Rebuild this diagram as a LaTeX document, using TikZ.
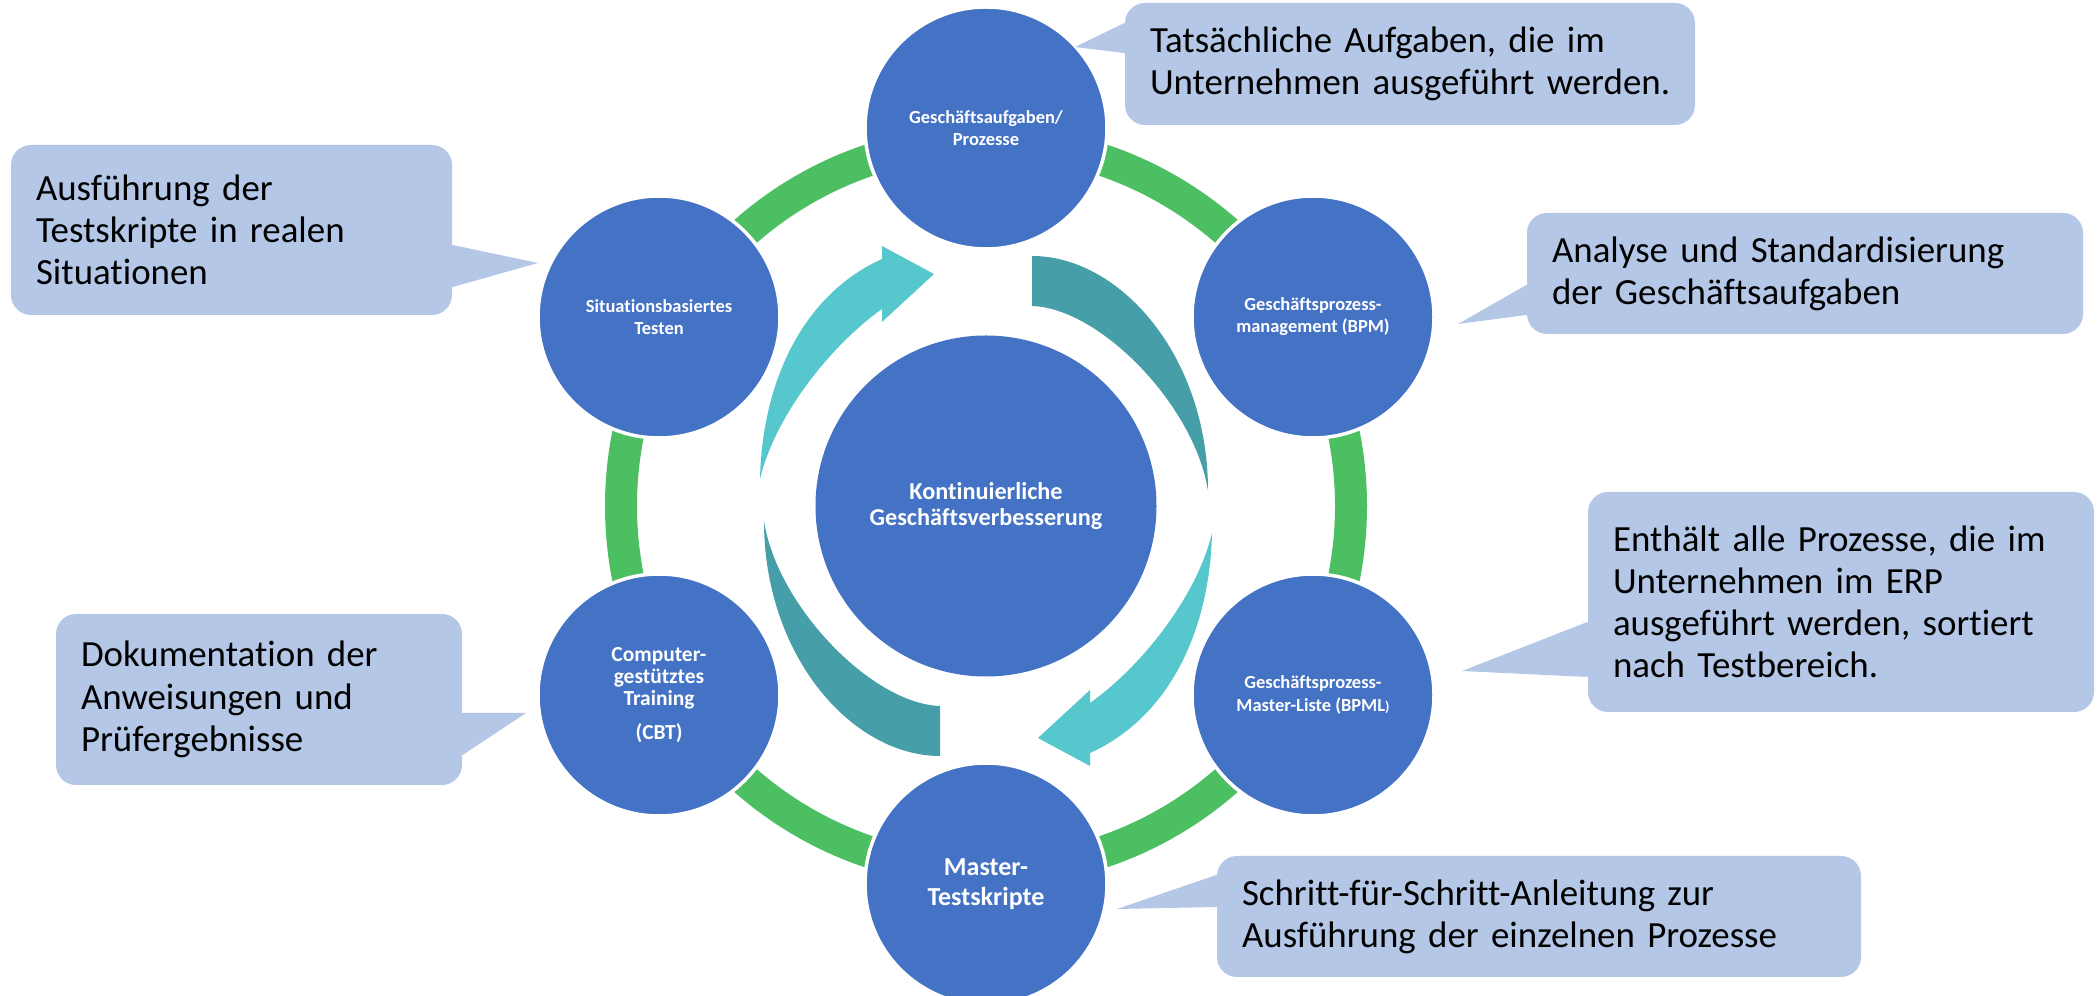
\documentclass[tikz,border=0pt]{standalone}
\usepackage{fontspec}
\setmainfont{Carlito}[Ligatures=NoCommon]
\definecolor{kreisblau}{HTML}{4472C4}
\definecolor{ringgruen}{HTML}{4BBF62}
\definecolor{pfeilhell}{HTML}{57C7CE}
\definecolor{pfeildunkel}{HTML}{469FA8}
\definecolor{notizblau}{HTML}{B4C7E7}

\begin{document}
\begin{tikzpicture}[
	kreis/.style={circle,fill=kreisblau,draw=white,line width=1pt,minimum size=2.42cm,inner sep=0pt,
		text=white,align=center,font=\bfseries\fontsize{5.25}{6.3}\selectfont},
	notiz/.style={rectangle,fill=notizblau,rounded corners=0.2cm,inner xsep=0.25cm,inner ysep=0pt,
		align=left,font=\fontsize{10.5}{12}\selectfont},
	zeiger/.style={fill=notizblau}]
	\useasboundingbox (0,0) rectangle (20.98,9.96);
	\coordinate (mitte) at (9.86,4.90);
	
	\draw [ringgruen,line width=0.32cm](mitte) circle (3.65);
	
	\fill [pfeilhell](7.60,5.17) .. controls (7.62,6.10) and (8.00,7.00) .. (8.82,7.37)--(8.82,7.50)--(9.34,7.22)--(8.82,6.74)--(8.82,6.87) .. controls (8.30,6.50) and (7.75,5.80) .. (7.60,5.17);
	\fill [pfeildunkel](10.32,7.40) .. controls (11.20,7.40) and (12.08,6.40) .. (12.08,5.05) .. controls (11.95,5.90) and (11.00,6.88) .. (10.32,6.90)--cycle;
	\begin{scope}[rotate around={180:(mitte)}]
		\fill [pfeilhell](7.60,5.17) .. controls (7.62,6.10) and (8.00,7.00) .. (8.82,7.37)--(8.82,7.50)--(9.34,7.22)--(8.82,6.74)--(8.82,6.87) .. controls (8.30,6.50) and (7.75,5.80) .. (7.60,5.17);
		\fill [pfeildunkel](10.32,7.40) .. controls (11.20,7.40) and (12.08,6.40) .. (12.08,5.05) .. controls (11.95,5.90) and (11.00,6.88) .. (10.32,6.90)--cycle;
	\end{scope}
	
	\node [circle,fill=kreisblau,minimum size=3.41cm,inner sep=0pt,text=white,align=center,
		font=\bfseries\fontsize{6.9}{7.3}\selectfont](verbesserung) at (mitte){Kontinuierliche\\Geschäftsverbesserung};
	
	\node [kreis](aufgaben) at (9.86,8.68){Geschäftsaufgaben/\\Prozesse};
	\node [kreis](bpm) at (13.13,6.79){Geschäftsprozess-\\management (BPM)};
	\node [kreis](bpml) at (13.13,3.01){Geschäftsprozess-\\Master-Liste (BPML{\fontsize{4}{4}\selectfont)}};
	\node [kreis,font=\bfseries\fontsize{7.4}{8.5}\selectfont](master) at (9.86,1.12){Master-\\Testskripte};
	\node [kreis,font=\bfseries\fontsize{6.1}{6.2}\selectfont](cbt) at (6.59,3.01){Computer-\\gestütztes\\Training\\[1.2mm](CBT)};
	\node [kreis](testen) at (6.59,6.79){Situationsbasiertes\\Testen};
	
	\node [notiz,text width=5.20cm,minimum height=1.22cm](n1) at (14.10,9.32){Tatsächliche Aufgaben, die im\\Unternehmen ausgeführt werden.};
	\node [notiz,text width=3.91cm,minimum height=1.70cm](n2) at (2.315,7.66){Ausführung der\\Testskripte in realen\\Situationen};
	\node [notiz,text width=5.06cm,minimum height=1.21cm](n3) at (18.05,7.225){Analyse und Standardisierung\\der Geschäftsaufgaben};
	\node [notiz,text width=4.56cm,minimum height=2.20cm](n4) at (18.41,3.94){Enthält alle Prozesse, die im\\Unternehmen im ERP\\ausgeführt werden, sortiert\\nach Testbereich.};
	\node [notiz,text width=3.56cm,minimum height=1.71cm](n5) at (2.59,2.965){Dokumentation der\\Anweisungen und\\Prüfergebnisse};
	\node [notiz,text width=5.94cm,minimum height=1.21cm](n6) at (15.39,0.795){Schritt-für-Schritt-Anleitung zur\\Ausführung der einzelnen Prozesse};
	
	\coordinate (z1) at (10.75,9.49);
	\coordinate (z2) at (5.38,7.33);
	\coordinate (z3) at (14.58,6.72);
	\coordinate (z4) at (14.62,3.25);
	\coordinate (z5) at (5.26,2.83);
	\coordinate (z6) at (11.17,0.87);
	\fill [zeiger](z1)--([yshift=4.1mm]n1.west)--([xshift=2mm]n1.west)--([yshift=1.1mm]n1.west)--cycle;
	\fill [zeiger](z2)--([yshift=-1.5mm]n2.east)--([xshift=-2mm,yshift=-3.5mm]n2.east)--([yshift=-5.7mm]n2.east)--cycle;
	\fill [zeiger](z3)--([yshift=-1.15mm]n3.west)--([xshift=2mm,yshift=-2.5mm]n3.west)--([yshift=-4.15mm]n3.west)--cycle;
	\fill [zeiger](z4)--([yshift=-2mm]n4.west)--([xshift=2mm,yshift=-4.5mm]n4.west)--([yshift=-7.5mm]n4.west)--cycle;
	\fill [zeiger](z5)--([yshift=-1.35mm]n5.east)--([xshift=-2mm,yshift=-3.5mm]n5.east)--([yshift=-5.55mm]n5.east)--cycle;
	\fill [zeiger](z6)--([yshift=4.15mm]n6.west)--([xshift=2mm,yshift=2.5mm]n6.west)--([yshift=0.95mm]n6.west)--cycle;
\end{tikzpicture}
\end{document}
